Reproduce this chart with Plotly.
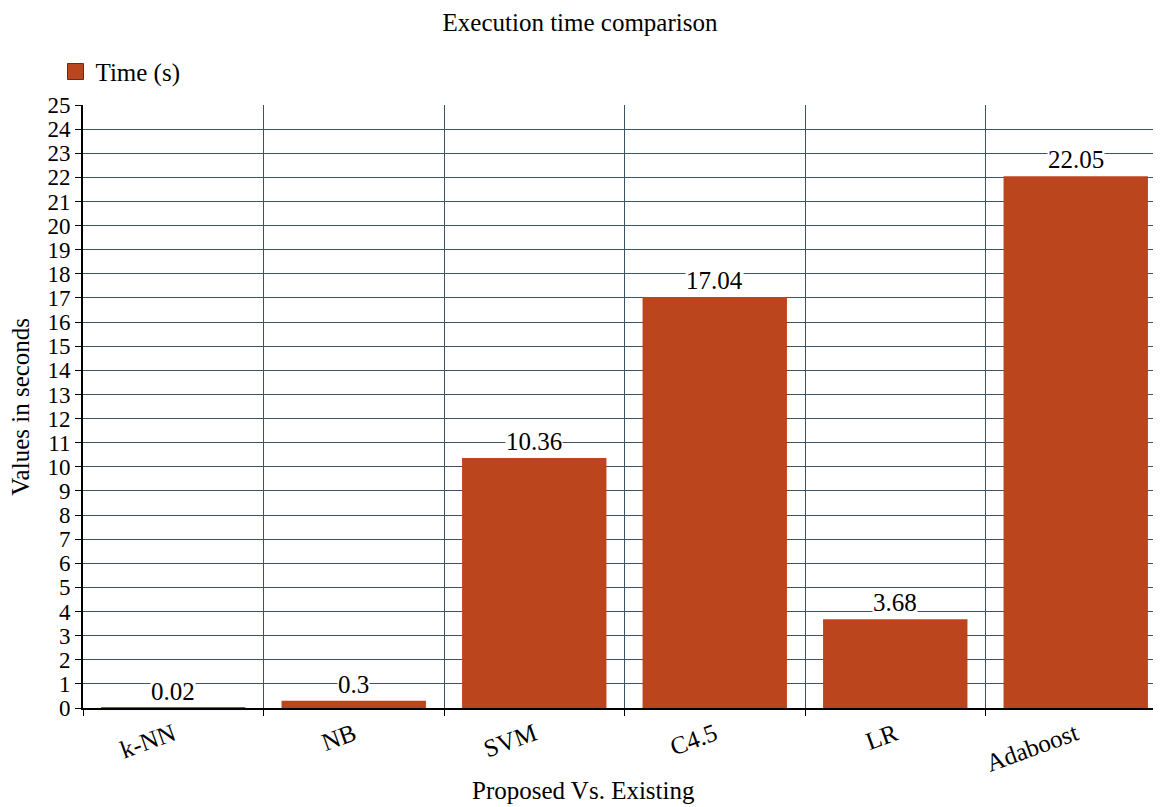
import plotly.graph_objects as go

categories = ["k-NN", "NB", "SVM", "C4.5", "LR", "Adaboost"]
times = [0.02, 0.3, 10.36, 17.04, 3.68, 22.05]
labels = ["0.02", "0.3", "10.36", "17.04", "3.68", "22.05"]

BAR = "#BB461E"
GRID = "#3B5563"
FONT = "Liberation Serif, Times New Roman, serif"
FS = 25

fig = go.Figure()
fig.add_trace(go.Bar(x=categories, y=times, name="Time (s)", marker=dict(color=BAR, line=dict(width=0)),
                     width=0.8, showlegend=False))
# legend entry with a larger square swatch
fig.add_trace(go.Scatter(x=[None], y=[None], mode="markers", name="Time (s)",
                         marker=dict(symbol="square", size=18, color=BAR,
                                     line=dict(color="#6b2a12", width=1)),
                         showlegend=True))

for c, v, t in zip(categories, times, labels):
    fig.add_annotation(x=c, y=v, text=t, showarrow=False, yanchor="bottom", yshift=2,
                       bgcolor="white", font=dict(size=FS, color="black", family=FONT),
                       borderpad=0)

fig.add_annotation(text="Proposed Vs. Existing", xref="paper", yref="paper",
                   x=0.4625, y=-0.136, xanchor="center", yanchor="middle", showarrow=False,
                   font=dict(size=FS, family=FONT, color="black"))
fig.add_annotation(text="Values in seconds", xref="paper", yref="paper",
                   x=-0.058, y=0.5, xanchor="center", yanchor="middle", showarrow=False,
                   textangle=-90, font=dict(size=FS, family=FONT, color="black"))

fig.update_layout(
    width=1161, height=807,
    margin=dict(l=75, r=3, t=97, b=107, autoexpand=False),
    paper_bgcolor="white", plot_bgcolor="white",
    font=dict(family=FONT, color="black"),
    title=dict(text="Execution time comparison", x=572 / 1161, xref="container", xanchor="center",
               y=1 - 14 / 807, yref="container", yanchor="middle",
               font=dict(size=25, family=FONT, color="black")),
    showlegend=True,
    legend=dict(x=-0.0254, y=1.017, xanchor="left", yanchor="bottom", orientation="h",
                font=dict(size=FS, family=FONT), itemwidth=30, bgcolor="rgba(0,0,0,0)",
                itemsizing="trace"),
    bargap=0.2,
)
fig.update_xaxes(type="category", tickson="boundaries", showgrid=True, gridcolor=GRID,
                 gridwidth=1, showline=True, linecolor="black", linewidth=2,
                 ticks="outside", ticklen=6, tickcolor="black", tickangle=-20,
                 tickfont=dict(size=FS, family=FONT), automargin=False)
fig.update_yaxes(range=[0, 25], dtick=1, tick0=0, showgrid=True, gridcolor=GRID, gridwidth=1,
                 showline=True, linecolor="black", linewidth=2, ticks="outside", ticklen=6,
                 tickcolor="black", tickfont=dict(size=23, family=FONT), zeroline=False,
                 automargin=False)

fig.write_html("out.html")
